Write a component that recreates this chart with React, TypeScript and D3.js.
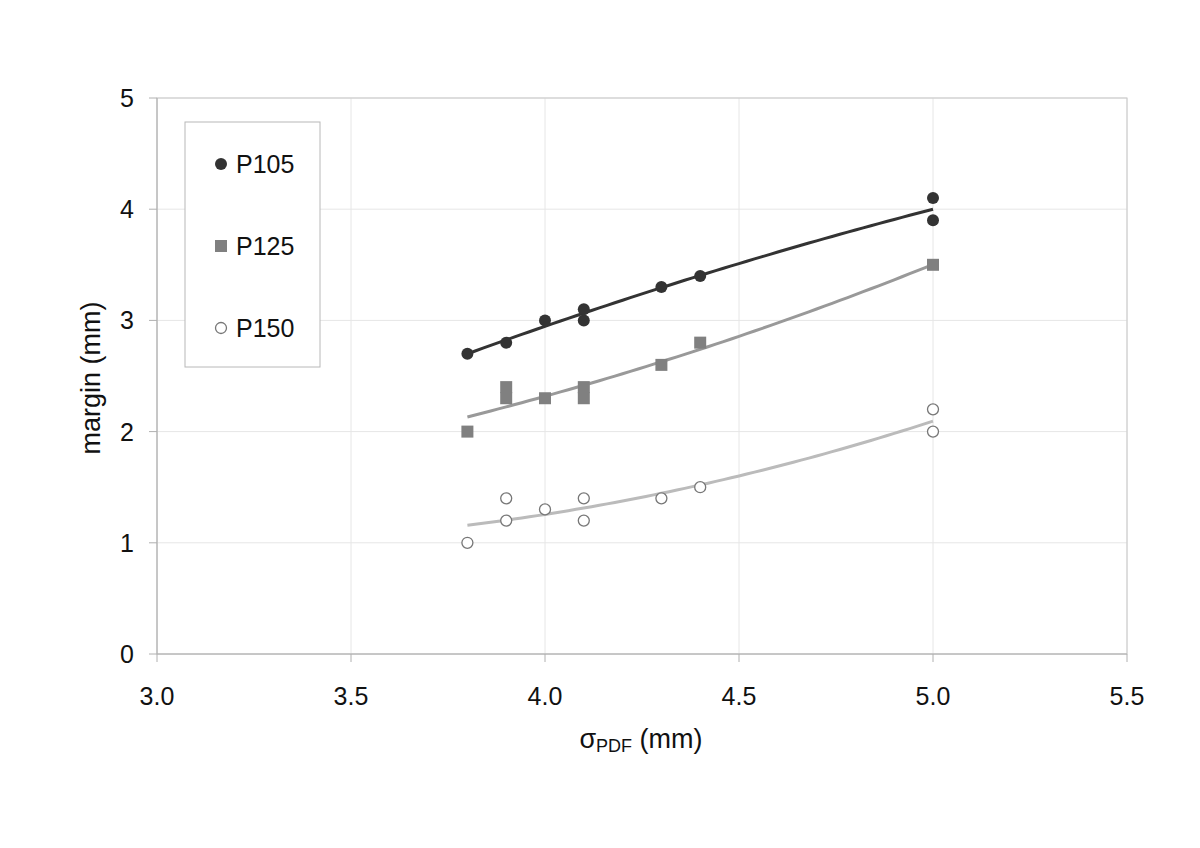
import React from "react";
import * as d3 from "d3";

const xTicks = [3.0, 3.5, 4.0, 4.5, 5.0, 5.5];
const yTicks = [0, 1, 2, 3, 4, 5];

const p105X = [3.8, 3.9, 4.0, 4.1, 4.1, 4.3, 4.4, 5.0, 5.0];
const p105Y = [2.7, 2.8, 3.0, 3.1, 3.0, 3.3, 3.4, 4.1, 3.9];
const p125X = [3.8, 3.9, 3.9, 4.0, 4.1, 4.1, 4.3, 4.4, 5.0];
const p125Y = [2.0, 2.4, 2.3, 2.3, 2.4, 2.3, 2.6, 2.8, 3.5];
const p150X = [3.8, 3.9, 3.9, 4.0, 4.1, 4.1, 4.3, 4.4, 5.0, 5.0];
const p150Y = [1.0, 1.4, 1.2, 1.3, 1.4, 1.2, 1.4, 1.5, 2.2, 2.0];

const seriesNames = ["P105", "P125", "P150"];

function quadFit(xs: number[], ys: number[]) {
  // least squares y = a + b x + c x^2
  const n = xs.length;
  let s = [0, 0, 0, 0, 0];
  let t = [0, 0, 0];
  for (let i = 0; i < n; i++) {
    const x = xs[i], y = ys[i];
    for (let k = 0; k < 5; k++) s[k] += Math.pow(x, k);
    for (let k = 0; k < 3; k++) t[k] += y * Math.pow(x, k);
  }
  const M = [
    [s[0], s[1], s[2], t[0]],
    [s[1], s[2], s[3], t[1]],
    [s[2], s[3], s[4], t[2]],
  ];
  for (let i = 0; i < 3; i++) {
    let p = i;
    for (let r = i + 1; r < 3; r++) if (Math.abs(M[r][i]) > Math.abs(M[p][i])) p = r;
    [M[i], M[p]] = [M[p], M[i]];
    for (let r = 0; r < 3; r++) {
      if (r === i) continue;
      const f = M[r][i] / M[i][i];
      for (let c = i; c < 4; c++) M[r][c] -= f * M[i][c];
    }
  }
  const a = M[0][3] / M[0][0], b = M[1][3] / M[1][1], c = M[2][3] / M[2][2];
  return (x: number) => a + b * x + c * x * x;
}

export default function App() {
  const W = 1200, H = 848;
  const left = 157, right = 1127, top = 98, bottom = 654;
  const x = d3.scaleLinear().domain([3.0, 5.5]).range([left, right]);
  const y = d3.scaleLinear().domain([0, 5]).range([bottom, top]);
  const font = "'Liberation Sans', Arial, sans-serif";
  const tickSize = 25;
  const titleSize = 27;

  const series = [
    { name: seriesNames[0], xs: p105X, ys: p105Y, line: "#333333", kind: "dot" },
    { name: seriesNames[1], xs: p125X, ys: p125Y, line: "#999999", kind: "square" },
    { name: seriesNames[2], xs: p150X, ys: p150Y, line: "#bbbbbb", kind: "open" },
  ];

  const lineGen = d3.line<number>().x((d) => x(d[0])).y((d) => y(d[1])) as any;

  const marker = (kind: string, cx: number, cy: number, key: any) => {
    if (kind === "dot") return <circle key={key} cx={cx} cy={cy} r={6} fill="#333333" />;
    if (kind === "square")
      return <rect key={key} x={cx - 6} y={cy - 6} width={12} height={12} fill="#808080" />;
    return <circle key={key} cx={cx} cy={cy} r={5.5} fill="white" stroke="#777777" strokeWidth={1.3} />;
  };

  return (
    <svg width={W} height={H} style={{ position: "absolute", left: 0, top: 0, background: "white" }}>
      <rect x={0} y={0} width={W} height={H} fill="white" />
      {xTicks.map((t) => (
        <line key={"gx" + t} x1={x(t)} x2={x(t)} y1={top} y2={bottom} stroke="#e6e6e6" strokeWidth={1} />
      ))}
      {yTicks.map((t) => (
        <line key={"gy" + t} x1={left} x2={right} y1={y(t)} y2={y(t)} stroke="#e6e6e6" strokeWidth={1} />
      ))}
      <rect x={left} y={top} width={right - left} height={bottom - top} fill="none" stroke="#c8c8c8" strokeWidth={1} />
      <line x1={left} x2={left} y1={top} y2={bottom} stroke="#b0b0b0" />
      <line x1={left} x2={right} y1={bottom} y2={bottom} stroke="#b0b0b0" />
      {yTicks.map((t) => (
        <g key={"ty" + t}>
          <line x1={left - 8} x2={left} y1={y(t)} y2={y(t)} stroke="#b0b0b0" />
          <text x={left - 23} y={y(t) + 9} textAnchor="end" fontFamily={font} fontSize={tickSize} fill="#111">
            {d3.format("d")(t)}
          </text>
        </g>
      ))}
      {xTicks.map((t) => (
        <g key={"tx" + t}>
          <line x1={x(t)} x2={x(t)} y1={bottom} y2={bottom + 8} stroke="#b0b0b0" />
          <text x={x(t)} y={bottom + 51} textAnchor="middle" fontFamily={font} fontSize={tickSize} fill="#111">
            {d3.format(".1f")(t)}
          </text>
        </g>
      ))}
      <text x={641} y={748} textAnchor="middle" fontFamily={font} fontSize={titleSize} fill="#111">
        σ<tspan fontSize={18} dy={4}>PDF</tspan>
        <tspan dy={-4}> (mm)</tspan>
      </text>
      <text transform={`translate(100, ${(298 + 458) / 2}) rotate(-90)`} textAnchor="middle" fontFamily={font} fontSize={titleSize} fill="#111">
        margin (mm)
      </text>
      {series.map((s) => {
        const f = quadFit(s.xs, s.ys);
        const pts = d3.range(0, 61).map((i) => {
          const xv = 3.8 + (i / 60) * 1.2;
          return [xv, f(xv)];
        });
        return <path key={"l" + s.name} d={lineGen(pts)} fill="none" stroke={s.line} strokeWidth={3} />;
      })}
      {series.map((s) => (
        <g key={"m" + s.name}>{s.xs.map((xv, i) => marker(s.kind, x(xv), y(s.ys[i]), i))}</g>
      ))}
      <rect x={185} y={122} width={135} height={245} fill="white" stroke="#b8b8b8" strokeWidth={1} />
      {series.map((s, i) => {
        const ly = 164 + i * 82;
        return (
          <g key={"lg" + s.name}>
            {marker(s.kind, 221, ly, "lm")}
            <text x={236} y={ly + 9} fontFamily={font} fontSize={tickSize} fill="#111">
              {s.name}
            </text>
          </g>
        );
      })}
    </svg>
  );
}
